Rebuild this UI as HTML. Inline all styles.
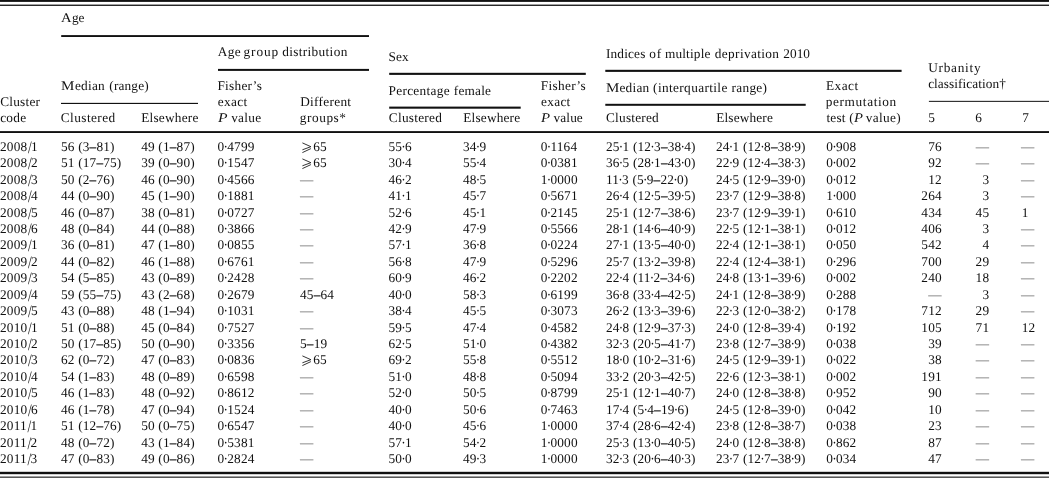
<!DOCTYPE html>
<html><head><meta charset="utf-8"><title>Table</title>
<style>
html,body{margin:0;padding:0;background:#fff;}
body{width:1049px;height:478px;position:relative;overflow:hidden;font-family:"Liberation Serif",serif;font-size:13.3px;line-height:16px;color:#111;will-change:transform;text-rendering:geometricPrecision;}
span{position:absolute;white-space:pre;letter-spacing:0.17px;}
s{text-decoration:none;margin:0 -0.85px;}
b{font-weight:normal;text-shadow:0 0 0 #111;}
u{text-decoration:none;display:inline-block;margin:0 -0.9px 0 0.8px;transform:translateY(1.1px) scaleY(1.31);}
span.d{color:#555;}
svg.ge{position:absolute;overflow:visible;}
svg.rules{position:absolute;left:0;top:0;}
</style></head><body>
<span style="left:0.00px;top:139px">2008<u>/</u>1</span>
<span style="left:61.00px;top:139px">56 (3<b>–</b>81)</span>
<span style="left:141.20px;top:139px">49 (1<b>–</b>87)</span>
<span style="left:217.50px;top:139px">0<s>·</s>4799</span>
<svg class="ge" style="left:301.70px;top:141.80px" width="11" height="12" viewBox="0 0 11 12"><path d="M0.4 0.9 L8.9 4.7 L0.4 7.8 M8.9 6.6 L0.4 10.6" fill="none" stroke="#111" stroke-width="0.85"/></svg>
<span style="left:313.20px;top:139px">65</span>
<span style="left:388.50px;top:139px">55<s>·</s>6</span>
<span style="left:463.00px;top:139px">34<s>·</s>9</span>
<span style="left:540.70px;top:139px">0<s>·</s>1164</span>
<span style="left:606.00px;top:139px">25<s>·</s>1 (12<s>·</s>3<b>–</b>38<s>·</s>4)</span>
<span style="left:716.00px;top:139px">24<s>·</s>1 (12<s>·</s>8<b>–</b>38<s>·</s>9)</span>
<span style="left:826.20px;top:139px">0<s>·</s>908</span>
<span style="right:107.20px;top:139px">76</span>
<span class="d" style="right:59.80px;top:139px">—</span>
<span class="d" style="left:1021.10px;top:139px">—</span>
<span style="left:0.00px;top:155px">2008<u>/</u>2</span>
<span style="left:61.00px;top:155px">51 (17<b>–</b>75)</span>
<span style="left:141.20px;top:155px">39 (0<b>–</b>90)</span>
<span style="left:217.50px;top:155px">0<s>·</s>1547</span>
<svg class="ge" style="left:301.70px;top:158.24px" width="11" height="12" viewBox="0 0 11 12"><path d="M0.4 0.9 L8.9 4.7 L0.4 7.8 M8.9 6.6 L0.4 10.6" fill="none" stroke="#111" stroke-width="0.85"/></svg>
<span style="left:313.20px;top:155px">65</span>
<span style="left:388.50px;top:155px">30<s>·</s>4</span>
<span style="left:463.00px;top:155px">55<s>·</s>4</span>
<span style="left:540.70px;top:155px">0<s>·</s>0381</span>
<span style="left:606.00px;top:155px">36<s>·</s>5 (28<s>·</s>1<b>–</b>43<s>·</s>0)</span>
<span style="left:716.00px;top:155px">22<s>·</s>9 (12<s>·</s>4<b>–</b>38<s>·</s>3)</span>
<span style="left:826.20px;top:155px">0<s>·</s>002</span>
<span style="right:107.20px;top:155px">92</span>
<span class="d" style="right:59.80px;top:155px">—</span>
<span class="d" style="left:1021.10px;top:155px">—</span>
<span style="left:0.00px;top:172px">2008<u>/</u>3</span>
<span style="left:61.00px;top:172px">50 (2<b>–</b>76)</span>
<span style="left:141.20px;top:172px">46 (0<b>–</b>90)</span>
<span style="left:217.50px;top:172px">0<s>·</s>4566</span>
<span class="d" style="left:300.00px;top:172px">—</span>
<span style="left:388.50px;top:172px">46<s>·</s>2</span>
<span style="left:463.00px;top:172px">48<s>·</s>5</span>
<span style="left:540.70px;top:172px">1<s>·</s>0000</span>
<span style="left:606.00px;top:172px">11<s>·</s>3 (5<s>·</s>9<b>–</b>22<s>·</s>0)</span>
<span style="left:716.00px;top:172px">24<s>·</s>5 (12<s>·</s>9<b>–</b>39<s>·</s>0)</span>
<span style="left:826.20px;top:172px">0<s>·</s>012</span>
<span style="right:107.20px;top:172px">12</span>
<span style="right:59.80px;top:172px">3</span>
<span class="d" style="left:1021.10px;top:172px">—</span>
<span style="left:0.00px;top:188px">2008<u>/</u>4</span>
<span style="left:61.00px;top:188px">44 (0<b>–</b>90)</span>
<span style="left:141.20px;top:188px">45 (1<b>–</b>90)</span>
<span style="left:217.50px;top:188px">0<s>·</s>1881</span>
<span class="d" style="left:300.00px;top:188px">—</span>
<span style="left:388.50px;top:188px">41<s>·</s>1</span>
<span style="left:463.00px;top:188px">45<s>·</s>7</span>
<span style="left:540.70px;top:188px">0<s>·</s>5671</span>
<span style="left:606.00px;top:188px">26<s>·</s>4 (12<s>·</s>5<b>–</b>39<s>·</s>5)</span>
<span style="left:716.00px;top:188px">23<s>·</s>7 (12<s>·</s>9<b>–</b>38<s>·</s>8)</span>
<span style="left:826.20px;top:188px">1<s>·</s>000</span>
<span style="right:107.20px;top:188px">264</span>
<span style="right:59.80px;top:188px">3</span>
<span class="d" style="left:1021.10px;top:188px">—</span>
<span style="left:0.00px;top:205px">2008<u>/</u>5</span>
<span style="left:61.00px;top:205px">46 (0<b>–</b>87)</span>
<span style="left:141.20px;top:205px">38 (0<b>–</b>81)</span>
<span style="left:217.50px;top:205px">0<s>·</s>0727</span>
<span class="d" style="left:300.00px;top:205px">—</span>
<span style="left:388.50px;top:205px">52<s>·</s>6</span>
<span style="left:463.00px;top:205px">45<s>·</s>1</span>
<span style="left:540.70px;top:205px">0<s>·</s>2145</span>
<span style="left:606.00px;top:205px">25<s>·</s>1 (12<s>·</s>7<b>–</b>38<s>·</s>6)</span>
<span style="left:716.00px;top:205px">23<s>·</s>7 (12<s>·</s>9<b>–</b>39<s>·</s>1)</span>
<span style="left:826.20px;top:205px">0<s>·</s>610</span>
<span style="right:107.20px;top:205px">434</span>
<span style="right:59.80px;top:205px">45</span>
<span style="left:1021.70px;top:205px">1</span>
<span style="left:0.00px;top:221px">2008<u>/</u>6</span>
<span style="left:61.00px;top:221px">48 (0<b>–</b>84)</span>
<span style="left:141.20px;top:221px">44 (0<b>–</b>88)</span>
<span style="left:217.50px;top:221px">0<s>·</s>3866</span>
<span class="d" style="left:300.00px;top:221px">—</span>
<span style="left:388.50px;top:221px">42<s>·</s>9</span>
<span style="left:463.00px;top:221px">47<s>·</s>9</span>
<span style="left:540.70px;top:221px">0<s>·</s>5566</span>
<span style="left:606.00px;top:221px">28<s>·</s>1 (14<s>·</s>6<b>–</b>40<s>·</s>9)</span>
<span style="left:716.00px;top:221px">22<s>·</s>5 (12<s>·</s>1<b>–</b>38<s>·</s>1)</span>
<span style="left:826.20px;top:221px">0<s>·</s>012</span>
<span style="right:107.20px;top:221px">406</span>
<span style="right:59.80px;top:221px">3</span>
<span class="d" style="left:1021.10px;top:221px">—</span>
<span style="left:0.00px;top:237px">2009<u>/</u>1</span>
<span style="left:61.00px;top:237px">36 (0<b>–</b>81)</span>
<span style="left:141.20px;top:237px">47 (1<b>–</b>80)</span>
<span style="left:217.50px;top:237px">0<s>·</s>0855</span>
<span class="d" style="left:300.00px;top:237px">—</span>
<span style="left:388.50px;top:237px">57<s>·</s>1</span>
<span style="left:463.00px;top:237px">36<s>·</s>8</span>
<span style="left:540.70px;top:237px">0<s>·</s>0224</span>
<span style="left:606.00px;top:237px">27<s>·</s>1 (13<s>·</s>5<b>–</b>40<s>·</s>0)</span>
<span style="left:716.00px;top:237px">22<s>·</s>4 (12<s>·</s>1<b>–</b>38<s>·</s>1)</span>
<span style="left:826.20px;top:237px">0<s>·</s>050</span>
<span style="right:107.20px;top:237px">542</span>
<span style="right:59.80px;top:237px">4</span>
<span class="d" style="left:1021.10px;top:237px">—</span>
<span style="left:0.00px;top:254px">2009<u>/</u>2</span>
<span style="left:61.00px;top:254px">44 (0<b>–</b>82)</span>
<span style="left:141.20px;top:254px">46 (1<b>–</b>88)</span>
<span style="left:217.50px;top:254px">0<s>·</s>6761</span>
<span class="d" style="left:300.00px;top:254px">—</span>
<span style="left:388.50px;top:254px">56<s>·</s>8</span>
<span style="left:463.00px;top:254px">47<s>·</s>9</span>
<span style="left:540.70px;top:254px">0<s>·</s>5296</span>
<span style="left:606.00px;top:254px">25<s>·</s>7 (13<s>·</s>2<b>–</b>39<s>·</s>8)</span>
<span style="left:716.00px;top:254px">22<s>·</s>4 (12<s>·</s>4<b>–</b>38<s>·</s>1)</span>
<span style="left:826.20px;top:254px">0<s>·</s>296</span>
<span style="right:107.20px;top:254px">700</span>
<span style="right:59.80px;top:254px">29</span>
<span class="d" style="left:1021.10px;top:254px">—</span>
<span style="left:0.00px;top:270px">2009<u>/</u>3</span>
<span style="left:61.00px;top:270px">54 (5<b>–</b>85)</span>
<span style="left:141.20px;top:270px">43 (0<b>–</b>89)</span>
<span style="left:217.50px;top:270px">0<s>·</s>2428</span>
<span class="d" style="left:300.00px;top:270px">—</span>
<span style="left:388.50px;top:270px">60<s>·</s>9</span>
<span style="left:463.00px;top:270px">46<s>·</s>2</span>
<span style="left:540.70px;top:270px">0<s>·</s>2202</span>
<span style="left:606.00px;top:270px">22<s>·</s>4 (11<s>·</s>2<b>–</b>34<s>·</s>6)</span>
<span style="left:716.00px;top:270px">24<s>·</s>8 (13<s>·</s>1<b>–</b>39<s>·</s>6)</span>
<span style="left:826.20px;top:270px">0<s>·</s>002</span>
<span style="right:107.20px;top:270px">240</span>
<span style="right:59.80px;top:270px">18</span>
<span class="d" style="left:1021.10px;top:270px">—</span>
<span style="left:0.00px;top:287px">2009<u>/</u>4</span>
<span style="left:61.00px;top:287px">59 (55<b>–</b>75)</span>
<span style="left:141.20px;top:287px">43 (2<b>–</b>68)</span>
<span style="left:217.50px;top:287px">0<s>·</s>2679</span>
<span style="left:300.00px;top:287px">45<b>–</b>64</span>
<span style="left:388.50px;top:287px">40<s>·</s>0</span>
<span style="left:463.00px;top:287px">58<s>·</s>3</span>
<span style="left:540.70px;top:287px">0<s>·</s>6199</span>
<span style="left:606.00px;top:287px">36<s>·</s>8 (33<s>·</s>4<b>–</b>42<s>·</s>5)</span>
<span style="left:716.00px;top:287px">24<s>·</s>1 (12<s>·</s>8<b>–</b>38<s>·</s>9)</span>
<span style="left:826.20px;top:287px">0<s>·</s>288</span>
<span class="d" style="right:107.20px;top:287px">—</span>
<span style="right:59.80px;top:287px">3</span>
<span class="d" style="left:1021.10px;top:287px">—</span>
<span style="left:0.00px;top:303px">2009<u>/</u>5</span>
<span style="left:61.00px;top:303px">43 (0<b>–</b>88)</span>
<span style="left:141.20px;top:303px">48 (1<b>–</b>94)</span>
<span style="left:217.50px;top:303px">0<s>·</s>1031</span>
<span class="d" style="left:300.00px;top:303px">—</span>
<span style="left:388.50px;top:303px">38<s>·</s>4</span>
<span style="left:463.00px;top:303px">45<s>·</s>5</span>
<span style="left:540.70px;top:303px">0<s>·</s>3073</span>
<span style="left:606.00px;top:303px">26<s>·</s>2 (13<s>·</s>3<b>–</b>39<s>·</s>6)</span>
<span style="left:716.00px;top:303px">22<s>·</s>3 (12<s>·</s>0<b>–</b>38<s>·</s>2)</span>
<span style="left:826.20px;top:303px">0<s>·</s>178</span>
<span style="right:107.20px;top:303px">712</span>
<span style="right:59.80px;top:303px">29</span>
<span class="d" style="left:1021.10px;top:303px">—</span>
<span style="left:0.00px;top:320px">2010<u>/</u>1</span>
<span style="left:61.00px;top:320px">51 (0<b>–</b>88)</span>
<span style="left:141.20px;top:320px">45 (0<b>–</b>84)</span>
<span style="left:217.50px;top:320px">0<s>·</s>7527</span>
<span class="d" style="left:300.00px;top:320px">—</span>
<span style="left:388.50px;top:320px">59<s>·</s>5</span>
<span style="left:463.00px;top:320px">47<s>·</s>4</span>
<span style="left:540.70px;top:320px">0<s>·</s>4582</span>
<span style="left:606.00px;top:320px">24<s>·</s>8 (12<s>·</s>9<b>–</b>37<s>·</s>3)</span>
<span style="left:716.00px;top:320px">24<s>·</s>0 (12<s>·</s>8<b>–</b>39<s>·</s>4)</span>
<span style="left:826.20px;top:320px">0<s>·</s>192</span>
<span style="right:107.20px;top:320px">105</span>
<span style="right:59.80px;top:320px">71</span>
<span style="left:1021.70px;top:320px">12</span>
<span style="left:0.00px;top:336px">2010<u>/</u>2</span>
<span style="left:61.00px;top:336px">50 (17<b>–</b>85)</span>
<span style="left:141.20px;top:336px">50 (0<b>–</b>90)</span>
<span style="left:217.50px;top:336px">0<s>·</s>3356</span>
<span style="left:300.00px;top:336px">5<b>–</b>19</span>
<span style="left:388.50px;top:336px">62<s>·</s>5</span>
<span style="left:463.00px;top:336px">51<s>·</s>0</span>
<span style="left:540.70px;top:336px">0<s>·</s>4382</span>
<span style="left:606.00px;top:336px">32<s>·</s>3 (20<s>·</s>5<b>–</b>41<s>·</s>7)</span>
<span style="left:716.00px;top:336px">23<s>·</s>8 (12<s>·</s>7<b>–</b>38<s>·</s>9)</span>
<span style="left:826.20px;top:336px">0<s>·</s>038</span>
<span style="right:107.20px;top:336px">39</span>
<span class="d" style="right:59.80px;top:336px">—</span>
<span class="d" style="left:1021.10px;top:336px">—</span>
<span style="left:0.00px;top:352px">2010<u>/</u>3</span>
<span style="left:61.00px;top:352px">62 (0<b>–</b>72)</span>
<span style="left:141.20px;top:352px">47 (0<b>–</b>83)</span>
<span style="left:217.50px;top:352px">0<s>·</s>0836</span>
<svg class="ge" style="left:301.70px;top:355.48px" width="11" height="12" viewBox="0 0 11 12"><path d="M0.4 0.9 L8.9 4.7 L0.4 7.8 M8.9 6.6 L0.4 10.6" fill="none" stroke="#111" stroke-width="0.85"/></svg>
<span style="left:313.20px;top:352px">65</span>
<span style="left:388.50px;top:352px">69<s>·</s>2</span>
<span style="left:463.00px;top:352px">55<s>·</s>8</span>
<span style="left:540.70px;top:352px">0<s>·</s>5512</span>
<span style="left:606.00px;top:352px">18<s>·</s>0 (10<s>·</s>2<b>–</b>31<s>·</s>6)</span>
<span style="left:716.00px;top:352px">24<s>·</s>5 (12<s>·</s>9<b>–</b>39<s>·</s>1)</span>
<span style="left:826.20px;top:352px">0<s>·</s>022</span>
<span style="right:107.20px;top:352px">38</span>
<span class="d" style="right:59.80px;top:352px">—</span>
<span class="d" style="left:1021.10px;top:352px">—</span>
<span style="left:0.00px;top:369px">2010<u>/</u>4</span>
<span style="left:61.00px;top:369px">54 (1<b>–</b>83)</span>
<span style="left:141.20px;top:369px">48 (0<b>–</b>89)</span>
<span style="left:217.50px;top:369px">0<s>·</s>6598</span>
<span class="d" style="left:300.00px;top:369px">—</span>
<span style="left:388.50px;top:369px">51<s>·</s>0</span>
<span style="left:463.00px;top:369px">48<s>·</s>8</span>
<span style="left:540.70px;top:369px">0<s>·</s>5094</span>
<span style="left:606.00px;top:369px">33<s>·</s>2 (20<s>·</s>3<b>–</b>42<s>·</s>5)</span>
<span style="left:716.00px;top:369px">22<s>·</s>6 (12<s>·</s>3<b>–</b>38<s>·</s>1)</span>
<span style="left:826.20px;top:369px">0<s>·</s>002</span>
<span style="right:107.20px;top:369px">191</span>
<span class="d" style="right:59.80px;top:369px">—</span>
<span class="d" style="left:1021.10px;top:369px">—</span>
<span style="left:0.00px;top:385px">2010<u>/</u>5</span>
<span style="left:61.00px;top:385px">46 (1<b>–</b>83)</span>
<span style="left:141.20px;top:385px">48 (0<b>–</b>92)</span>
<span style="left:217.50px;top:385px">0<s>·</s>8612</span>
<span class="d" style="left:300.00px;top:385px">—</span>
<span style="left:388.50px;top:385px">52<s>·</s>0</span>
<span style="left:463.00px;top:385px">50<s>·</s>5</span>
<span style="left:540.70px;top:385px">0<s>·</s>8799</span>
<span style="left:606.00px;top:385px">25<s>·</s>1 (12<s>·</s>1<b>–</b>40<s>·</s>7)</span>
<span style="left:716.00px;top:385px">24<s>·</s>0 (12<s>·</s>8<b>–</b>38<s>·</s>8)</span>
<span style="left:826.20px;top:385px">0<s>·</s>952</span>
<span style="right:107.20px;top:385px">90</span>
<span class="d" style="right:59.80px;top:385px">—</span>
<span class="d" style="left:1021.10px;top:385px">—</span>
<span style="left:0.00px;top:402px">2010<u>/</u>6</span>
<span style="left:61.00px;top:402px">46 (1<b>–</b>78)</span>
<span style="left:141.20px;top:402px">47 (0<b>–</b>94)</span>
<span style="left:217.50px;top:402px">0<s>·</s>1524</span>
<span class="d" style="left:300.00px;top:402px">—</span>
<span style="left:388.50px;top:402px">40<s>·</s>0</span>
<span style="left:463.00px;top:402px">50<s>·</s>6</span>
<span style="left:540.70px;top:402px">0<s>·</s>7463</span>
<span style="left:606.00px;top:402px">17<s>·</s>4 (5<s>·</s>4<b>–</b>19<s>·</s>6)</span>
<span style="left:716.00px;top:402px">24<s>·</s>5 (12<s>·</s>8<b>–</b>39<s>·</s>0)</span>
<span style="left:826.20px;top:402px">0<s>·</s>042</span>
<span style="right:107.20px;top:402px">10</span>
<span class="d" style="right:59.80px;top:402px">—</span>
<span class="d" style="left:1021.10px;top:402px">—</span>
<span style="left:0.00px;top:418px">2011<u>/</u>1</span>
<span style="left:61.00px;top:418px">51 (12<b>–</b>76)</span>
<span style="left:141.20px;top:418px">50 (0<b>–</b>75)</span>
<span style="left:217.50px;top:418px">0<s>·</s>6547</span>
<span class="d" style="left:300.00px;top:418px">—</span>
<span style="left:388.50px;top:418px">40<s>·</s>0</span>
<span style="left:463.00px;top:418px">45<s>·</s>6</span>
<span style="left:540.70px;top:418px">1<s>·</s>0000</span>
<span style="left:606.00px;top:418px">37<s>·</s>4 (28<s>·</s>6<b>–</b>42<s>·</s>4)</span>
<span style="left:716.00px;top:418px">23<s>·</s>8 (12<s>·</s>8<b>–</b>38<s>·</s>7)</span>
<span style="left:826.20px;top:418px">0<s>·</s>038</span>
<span style="right:107.20px;top:418px">23</span>
<span class="d" style="right:59.80px;top:418px">—</span>
<span class="d" style="left:1021.10px;top:418px">—</span>
<span style="left:0.00px;top:435px">2011<u>/</u>2</span>
<span style="left:61.00px;top:435px">48 (0<b>–</b>72)</span>
<span style="left:141.20px;top:435px">43 (1<b>–</b>84)</span>
<span style="left:217.50px;top:435px">0<s>·</s>5381</span>
<span class="d" style="left:300.00px;top:435px">—</span>
<span style="left:388.50px;top:435px">57<s>·</s>1</span>
<span style="left:463.00px;top:435px">54<s>·</s>2</span>
<span style="left:540.70px;top:435px">1<s>·</s>0000</span>
<span style="left:606.00px;top:435px">25<s>·</s>3 (13<s>·</s>0<b>–</b>40<s>·</s>5)</span>
<span style="left:716.00px;top:435px">24<s>·</s>0 (12<s>·</s>8<b>–</b>38<s>·</s>8)</span>
<span style="left:826.20px;top:435px">0<s>·</s>862</span>
<span style="right:107.20px;top:435px">87</span>
<span class="d" style="right:59.80px;top:435px">—</span>
<span class="d" style="left:1021.10px;top:435px">—</span>
<span style="left:0.00px;top:451px">2011<u>/</u>3</span>
<span style="left:61.00px;top:451px">47 (0<b>–</b>83)</span>
<span style="left:141.20px;top:451px">49 (0<b>–</b>86)</span>
<span style="left:217.50px;top:451px">0<s>·</s>2824</span>
<span class="d" style="left:300.00px;top:451px">—</span>
<span style="left:388.50px;top:451px">50<s>·</s>0</span>
<span style="left:463.00px;top:451px">49<s>·</s>3</span>
<span style="left:540.70px;top:451px">1<s>·</s>0000</span>
<span style="left:606.00px;top:451px">32<s>·</s>3 (20<s>·</s>6<b>–</b>40<s>·</s>3)</span>
<span style="left:716.00px;top:451px">23<s>·</s>7 (12<s>·</s>7<b>–</b>38<s>·</s>9)</span>
<span style="left:826.20px;top:451px">0<s>·</s>034</span>
<span style="right:107.20px;top:451px">47</span>
<span class="d" style="right:59.80px;top:451px">—</span>
<span class="d" style="left:1021.10px;top:451px">—</span>
<span style="left:60.89px;top:10px;transform:scaleX(1.099);transform-origin:0 0">A</span>
<span style="left:71.96px;top:10px;letter-spacing:-0.072px">ge</span>
<span style="left:217.70px;top:44px;letter-spacing:0.386px">Age</span>
<span style="left:243.54px;top:44px;letter-spacing:0.900px">group</span>
<span style="left:282.18px;top:44px;letter-spacing:0.347px">distribution</span>
<span style="left:61.25px;top:78px;transform:scaleX(1.133);transform-origin:0 0">M</span>
<span style="left:74.89px;top:78px;letter-spacing:0.261px">edian</span>
<span style="left:109.29px;top:78px;letter-spacing:0.169px">(range)</span>
<span style="left:0.15px;top:94px;letter-spacing:0.239px">Cluster</span>
<span style="left:0.15px;top:110px;letter-spacing:0.312px">code</span>
<span style="left:60.82px;top:110px;letter-spacing:0.421px">Clustered</span>
<span style="left:141.19px;top:110px;letter-spacing:0.224px">Elsewhere</span>
<span style="left:217.45px;top:78px;letter-spacing:0.272px">Fisher’s</span>
<span style="left:217.87px;top:94px;letter-spacing:0.305px">exact</span>
<span style="left:218.01px;top:110px;transform:scaleX(1.175);transform-origin:0 0"><i>P</i></span>
<span style="left:231.14px;top:110px;letter-spacing:0.303px">value</span>
<span style="left:300.21px;top:94px;letter-spacing:0.297px">Different</span>
<span style="left:299.85px;top:110px;letter-spacing:0.546px">groups*</span>
<span style="left:388.54px;top:49px;letter-spacing:0.043px">Sex</span>
<span style="left:388.47px;top:83px;letter-spacing:0.311px">Percentage</span>
<span style="left:453.74px;top:83px;letter-spacing:0.221px">female</span>
<span style="left:388.87px;top:110px;letter-spacing:0.254px">Clustered</span>
<span style="left:463.30px;top:110px;letter-spacing:0.179px">Elsewhere</span>
<span style="left:540.65px;top:78px;letter-spacing:0.361px">Fisher’s</span>
<span style="left:541.11px;top:94px;letter-spacing:0.283px">exact</span>
<span style="left:541.14px;top:110px;transform:scaleX(1.117);transform-origin:0 0"><i>P</i></span>
<span style="left:553.61px;top:110px;letter-spacing:0.091px">value</span>
<span style="left:605.95px;top:46px;letter-spacing:0.171px">Indices</span>
<span style="left:649.18px;top:46px;letter-spacing:0.900px">of</span>
<span style="left:664.88px;top:46px;letter-spacing:0.178px">multiple</span>
<span style="left:714.87px;top:46px;letter-spacing:0.355px">deprivation</span>
<span style="left:783.37px;top:46px;letter-spacing:0.014px">2010</span>
<span style="left:606.30px;top:80px;transform:scaleX(1.128);transform-origin:0 0">M</span>
<span style="left:619.48px;top:80px;letter-spacing:0.231px">edian</span>
<span style="left:653.11px;top:80px;letter-spacing:0.370px">(interquartile</span>
<span style="left:731.39px;top:80px;letter-spacing:0.341px">range)</span>
<span style="left:606.03px;top:110px;letter-spacing:0.222px">Clustered</span>
<span style="left:716.16px;top:110px;letter-spacing:0.167px">Elsewhere</span>
<span style="left:825.91px;top:78px;letter-spacing:0.489px">Exact</span>
<span style="left:825.82px;top:94px;letter-spacing:0.610px">permutation</span>
<span style="left:826.41px;top:110px;letter-spacing:0.200px">test</span>
<span style="left:849.14px;top:110px">(</span>
<span style="left:853.75px;top:110px;transform:scaleX(1.103);transform-origin:0 0"><i>P</i></span>
<span style="left:865.71px;top:110px;letter-spacing:0.334px">value)</span>
<span style="left:928.21px;top:60px;letter-spacing:0.727px">Urbanity</span>
<span style="left:928.13px;top:76px;letter-spacing:0.064px">classification†</span>
<span style="left:928.36px;top:110px">5</span>
<span style="left:975.21px;top:110px">6</span>
<span style="left:1022.14px;top:110px">7</span>
<svg class="rules" width="1049" height="478" viewBox="0 0 1049 478" fill="#111"><rect x="0" y="0" width="1049.00" height="1.9"/><rect x="0" y="4.6" width="1049.00" height="1.3"/><rect x="61.2" y="35.1" width="307.80" height="1.9"/><rect x="218" y="68.9" width="151.00" height="2.0"/><rect x="61.0" y="102.85" width="137.00" height="1.15"/><rect x="389.2" y="72.8" width="196.60" height="2.1"/><rect x="389.2" y="106.6" width="131.50" height="2.1"/><rect x="605.3" y="69.8" width="296.30" height="2.1"/><rect x="605.3" y="103.8" width="200.40" height="2.0"/><rect x="928.9" y="100.85" width="120.10" height="1.0"/><rect x="0" y="131.1" width="1049.00" height="1.9"/><rect x="0" y="471.8" width="1049.00" height="2.4"/><rect x="0" y="476.6" width="1049.00" height="1.1"/></svg>
</body></html>
